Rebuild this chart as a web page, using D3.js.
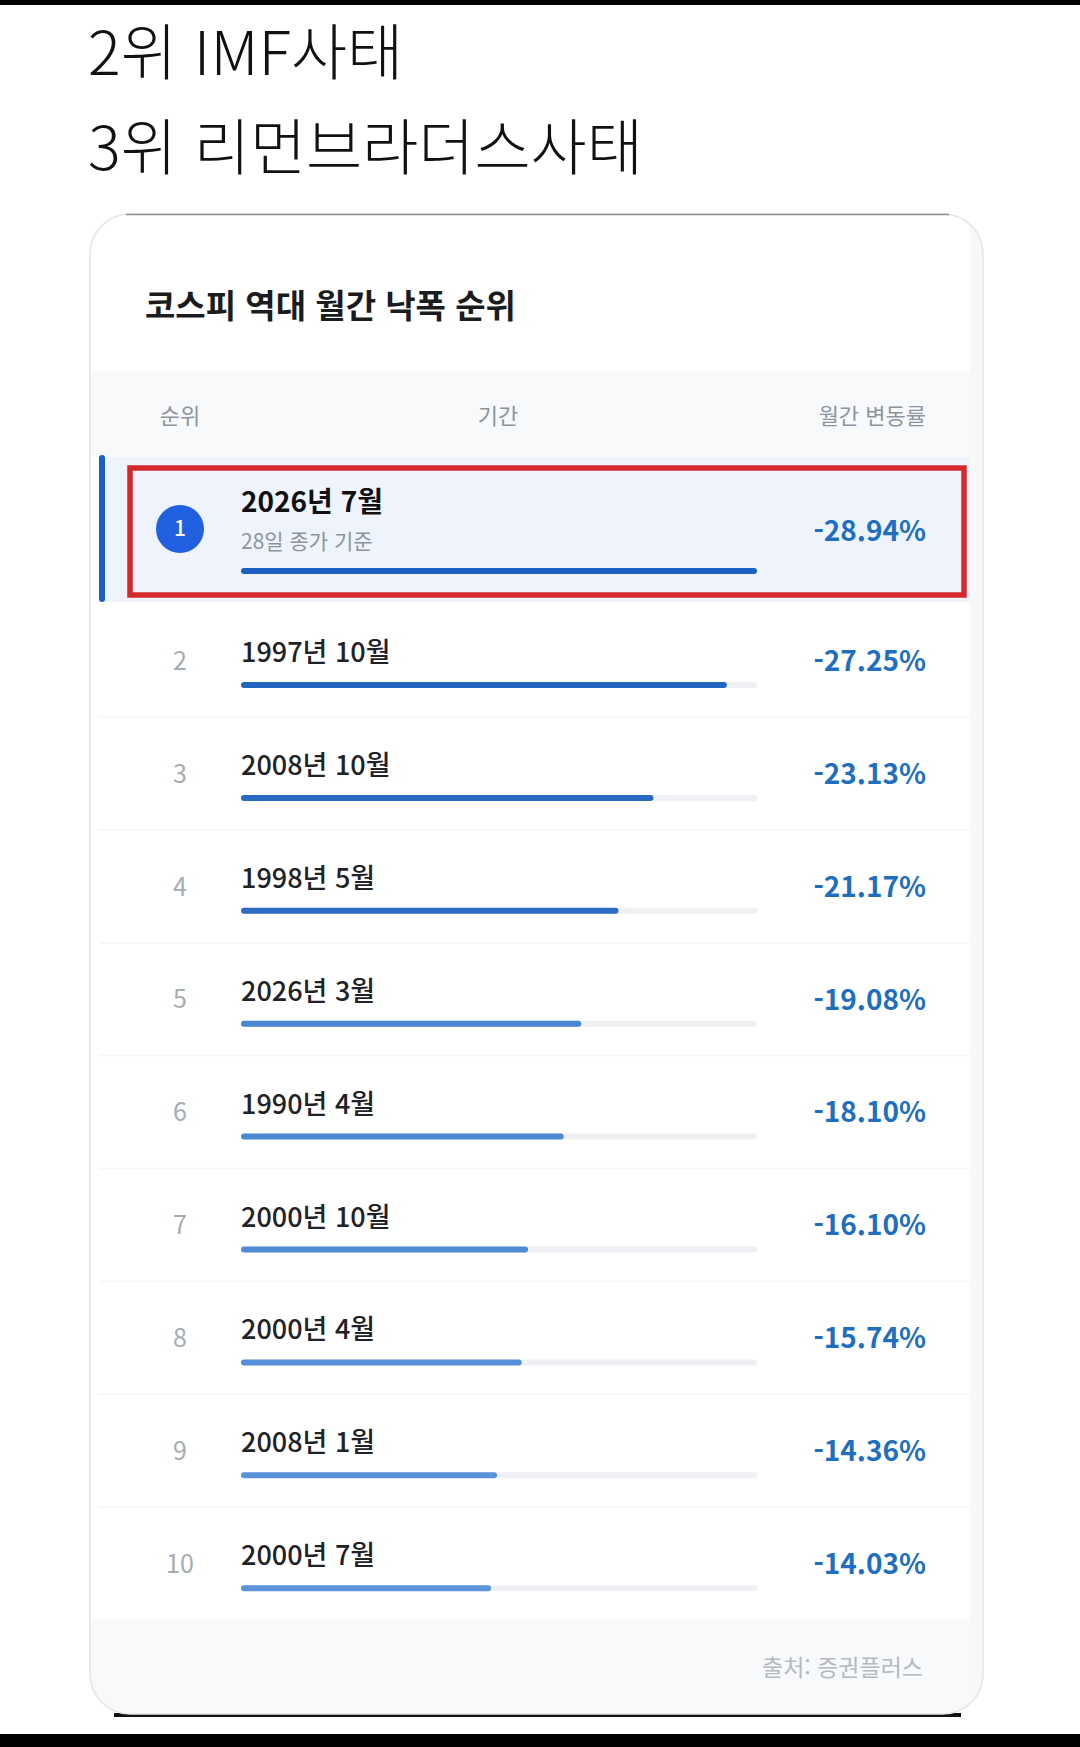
<!DOCTYPE html>
<html lang="ko">
<head>
<meta charset="UTF-8">
<title>코스피 역대 월간 낙폭 순위</title>
<script src="https://cdn.jsdelivr.net/npm/d3@7"></script>
<style>
  body { margin: 0; background: #fff; }
  svg { display: block; font-family: "Noto Sans CJK KR", "Noto Sans", sans-serif; }
</style>
</head>
<body>
<div id="container"></div>
<script>
// 데이터
const headlines = ["2위 IMF사태", "3위 리먼브라더스사태"];
const chartTitle = "코스피 역대 월간 낙폭 순위";
const headers = ["순위", "기간", "월간 변동률"];
const ranks = [1, 2, 3, 4, 5, 6, 7, 8, 9, 10];
const periods = ["2026년 7월", "1997년 10월", "2008년 10월", "1998년 5월", "2026년 3월",
                 "1990년 4월", "2000년 10월", "2000년 4월", "2008년 1월", "2000년 7월"];
const changes = [-28.94, -27.25, -23.13, -21.17, -19.08, -18.10, -16.10, -15.74, -14.36, -14.03];
const firstNote = "28일 종가 기준";
const source = "출처: 증권플러스";

const width = 1080, height = 1747;
const card = {x: 90, y: 214, w: 893, h: 1500, r: 40};
const inner = {x0: 99, x1: 970};
const track = {x: 241, w: 516, h: 6};

const svg = d3.select("#container").append("svg")
    .attr("width", width).attr("height", height);

// 위아래 검은 띠
svg.append("rect").attr("x", 0).attr("y", 0).attr("width", width).attr("height", 5).attr("fill", "#000");
svg.append("rect").attr("x", 0).attr("y", 1734).attr("width", width).attr("height", 13).attr("fill", "#000");

// 상단 문구
svg.selectAll("text.headline").data(headlines).join("text")
    .attr("class", "headline")
    .attr("x", 88)
    .attr("y", (d, i) => [75, 170][i])
    .attr("font-size", (d, i) => [61, 61][i])
    .attr("font-weight", 300)
    .attr("fill", "#111")
    .text(d => d);

// 카드
svg.append("path")
    .attr("d", `M114,${card.y + card.h + 1} L961,${card.y + card.h + 1}`)
    .attr("stroke", "#111").attr("stroke-width", 4);
const defs = svg.append("defs");
defs.append("clipPath").attr("id", "cardClip")
    .append("rect").attr("x", card.x).attr("y", card.y).attr("width", card.w).attr("height", card.h)
    .attr("rx", card.r);
svg.append("rect").attr("x", card.x).attr("y", card.y).attr("width", card.w).attr("height", card.h)
    .attr("rx", card.r).attr("fill", "#fff");

const g = svg.append("g").attr("clip-path", "url(#cardClip)");
g.append("rect").attr("x", inner.x1).attr("y", card.y).attr("width", card.x + card.w - inner.x1)
    .attr("height", card.h).attr("fill", "#f8f8f9");

svg.append("rect").attr("x", card.x).attr("y", card.y).attr("width", card.w).attr("height", card.h)
    .attr("rx", card.r).attr("fill", "none").attr("stroke", "#e3e4e7").attr("stroke-width", 1.5);
svg.append("line").attr("x1", card.x + card.r - 4).attr("x2", card.x + card.w - card.r + 6)
    .attr("y1", card.y + 0.5).attr("y2", card.y + 0.5).attr("stroke", "#8c8c8c").attr("stroke-width", 1.5);

// 카드 제목
g.append("text")
    .attr("x", 145).attr("y", 318)
    .attr("font-size", 33).attr("font-weight", 700).attr("fill", "#1a1c20")
    .text(chartTitle);

// 헤더
g.append("rect").attr("x", card.x).attr("y", 371).attr("width", inner.x1 - card.x).attr("height", 86)
    .attr("fill", "#f8f9fb");
const headerX = [180, 498, 926];
const headerAnchor = ["middle", "middle", "end"];
g.selectAll("text.header").data(headers).join("text")
    .attr("class", "header")
    .attr("x", (d, i) => headerX[i]).attr("y", 416)
    .attr("dy", "0.35em")
    .attr("text-anchor", (d, i) => headerAnchor[i])
    .attr("font-size", 22).attr("fill", "#8b95a1")
    .text(d => d);

// 행 위치
const firstRow = {top: 457, bottom: 604};
const rowY = d3.scaleLinear().domain([1, 9]).range([604, 604 + 8 * 112.9]);
const rowH = 112.9;
const rowTop = i => i === 0 ? firstRow.top : rowY(i);

const x = d3.scaleLinear().domain([0, d3.max(changes, d => Math.abs(d))]).range([0, track.w]);
const barColor = d3.scaleLinear().domain([1, 3, 4, 9]).range(["#2365bf", "#2c6dc3", "#4886d3", "#5c95d9"]);
const fmt = d3.formatLocale({decimal: ".", thousands: ",", grouping: [3], currency: ["", ""], minus: "-"})
    .format(".2f");

const rows = ranks.map((r, i) => ({rank: r, period: periods[i], change: changes[i], i}));

// 1위 강조 배경
g.append("rect").attr("x", inner.x0).attr("y", firstRow.top).attr("width", inner.x1 - inner.x0)
    .attr("height", firstRow.bottom - firstRow.top - 2).attr("fill", "#eef3fc");
g.append("rect").attr("x", inner.x0).attr("y", firstRow.top - 2).attr("width", 6)
    .attr("height", firstRow.bottom - firstRow.top).attr("rx", 3).attr("fill", "#1a5fc8");

// 구분선
g.selectAll("line.sep").data(rows.slice(1)).join("line")
    .attr("class", "sep")
    .attr("x1", inner.x0).attr("x2", inner.x1)
    .attr("y1", d => rowTop(d.i) + rowH).attr("y2", d => rowTop(d.i) + rowH)
    .attr("stroke", "#f4f5f6").attr("stroke-width", 1.5);

// 푸터
g.append("rect").attr("x", card.x).attr("y", 1620).attr("width", inner.x1 - card.x).attr("height", 100)
    .attr("fill", "#f8f9fa");
g.append("text")
    .attr("x", 923).attr("y", 1668).attr("dy", "0.35em")
    .attr("text-anchor", "end").attr("font-size", 23).attr("fill", "#b3bac2")
    .text(source);

const row = g.selectAll("g.row").data(rows).join("g").attr("class", "row");

// 순위
row.filter(d => d.i === 0).append("circle")
    .attr("cx", 180).attr("cy", 529).attr("r", 24).attr("fill", "#2160e0");
row.append("text")
    .attr("x", 180)
    .attr("y", d => d.i === 0 ? 529 : rowTop(d.i) + 57)
    .attr("dy", "0.35em")
    .attr("text-anchor", "middle")
    .attr("font-size", d => d.i === 0 ? 21 : 25)
    .attr("font-weight", d => d.i === 0 ? 500 : 400)
    .attr("fill", d => d.i === 0 ? "#fff" : "#a6acb3")
    .text(d => d.rank);

// 기간
row.append("text")
    .attr("x", track.x)
    .attr("y", d => d.i === 0 ? 512 : rowTop(d.i) + 58)
    .attr("font-size", d => d.i === 0 ? 28 : 27)
    .attr("font-weight", d => d.i === 0 ? 700 : 500)
    .attr("fill", d => d.i === 0 ? "#111" : "#1f2227")
    .text(d => d.period);
row.filter(d => d.i === 0).append("text")
    .attr("x", track.x).attr("y", 549)
    .attr("font-size", 21).attr("fill", "#8b95a1")
    .text(firstNote);

// 막대
const barMid = d => d.i === 0 ? 571 : rowTop(d.i) + 81;
row.filter(d => d.i > 0).append("rect")
    .attr("x", track.x).attr("y", d => barMid(d) - track.h / 2)
    .attr("width", track.w).attr("height", track.h).attr("rx", track.h / 2)
    .attr("fill", "#eef0f4");
row.append("rect")
    .attr("x", track.x).attr("y", d => barMid(d) - track.h / 2)
    .attr("width", d => x(Math.abs(d.change))).attr("height", track.h).attr("rx", track.h / 2)
    .attr("fill", d => d.i === 0 ? "#1c5fc2" : barColor(d.i));

// 변동률
row.append("text")
    .attr("x", 926)
    .attr("y", d => d.i === 0 ? 531 : rowTop(d.i) + 57)
    .attr("dy", "0.35em")
    .attr("text-anchor", "end")
    .attr("font-size", 28).attr("font-weight", 600)
    .attr("fill", "#1f6fc0")
    .text(d => fmt(d.change) + "%");

// 빨간 테두리
svg.append("rect")
    .attr("x", 130).attr("y", 468).attr("width", 834).attr("height", 127)
    .attr("fill", "none").attr("stroke", "#d4282b").attr("stroke-width", 5.5);
</script>
</body>
</html>
